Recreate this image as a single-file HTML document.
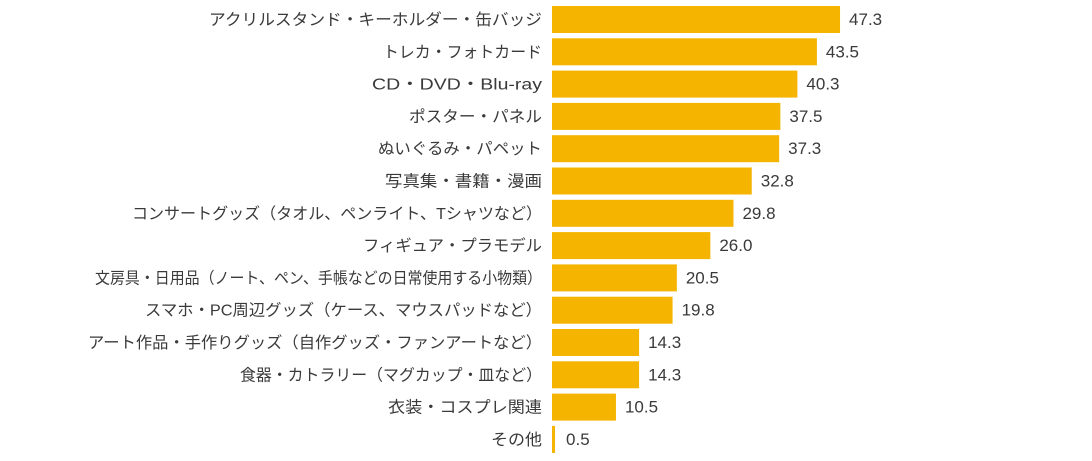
<!DOCTYPE html><html><head><meta charset="utf-8"><style>
body{margin:0;width:1092px;height:456px;background:#fff;overflow:hidden}
svg text{font-family:"Liberation Sans","Noto Sans CJK JP",sans-serif;fill:#3a3a3a;font-size:16px}
</style></head><body>
<svg width="1092" height="456" xmlns="http://www.w3.org/2000/svg" id="s"></svg>
<script>
const d=[["アクリルスタンド・キーホルダー・缶バッジ",47.3,333],["トレカ・フォトカード",43.5,159],["CD・DVD・Blu-ray",40.3,170],["ポスター・パネル",37.5,133],["ぬいぐるみ・パペット",37.3,164],["写真集・書籍・漫画",32.8,157],["コンサートグッズ（タオル、ペンライト、Tシャツなど）",29.8,410],["フィギュア・プラモデル",26.0,179],["文房具・日用品（ノート、ペン、手帳などの日常使用する小物類）",20.5,447],["スマホ・PC周辺グッズ（ケース、マウスパッドなど）",19.8,397],["アート作品・手作りグッズ（自作グッズ・ファンアートなど）",14.3,454],["食器・カトラリー（マグカップ・皿など）",14.3,302],["衣装・コスプレ関連",10.5,154],["その他",0.5,51]];
let h="";d.forEach((r,i)=>{const y=6+i*32.3,w=Math.max(r[1]*6.09,3);
h+=`<rect x="552" y="${y}" width="${w}" height="27" fill="#f4b400"/>`;
h+=`<text x="542" y="${y+19}" text-anchor="end" textLength="${r[2]}" lengthAdjust="spacingAndGlyphs">${r[0]}</text>`;
h+=`<text x="${552+w+(r[1]<1?11:9)}" y="${y+19}" style="font-size:17px">${r[1].toFixed(1)}</text>`;});
document.getElementById("s").innerHTML=h;
</script></body></html>
